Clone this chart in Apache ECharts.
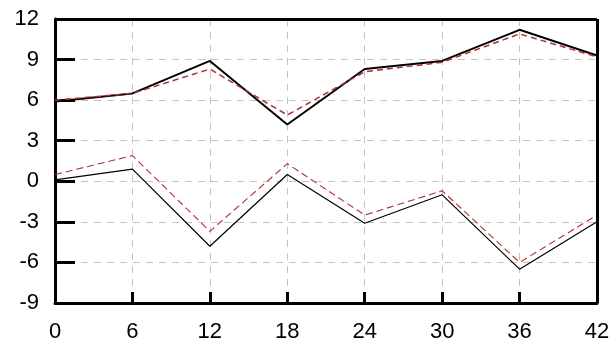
<!DOCTYPE html>
<html>
<head>
<meta charset="utf-8">
<script src="https://cdn.jsdelivr.net/npm/echarts@6/dist/echarts.min.js"></script>
<style>html,body{margin:0;padding:0;background:#fff}#c{width:612px;height:344px}</style>
</head>
<body>
<div id="c"></div>
<script>
var xValues = [0, 6, 12, 18, 24, 30, 36, 42];
var upperSolid = [5.9, 6.5, 8.9, 4.2, 8.3, 8.9, 11.2, 9.3];
var upperDashed = [6.0, 6.5, 8.3, 4.9, 8.1, 8.8, 10.9, 9.2];
var lowerSolid = [0.1, 0.9, -4.8, 0.5, -3.1, -1.0, -6.5, -3.0];
var lowerDashed = [0.5, 1.9, -3.7, 1.3, -2.5, -0.7, -6.0, -2.5];
var xMin = 0, xMax = 42, yMin = -9, yMax = 12;

function pairs(ys) { return xValues.map(function (x, i) { return [x, ys[i]]; }); }

var chart = echarts.init(document.getElementById('c'));
var fam = 'Liberation Sans, Arial, sans-serif';
chart.setOption({
  animation: false,
  grid: { left: 55, right: 15, top: 19, bottom: 41, outerBoundsMode: 'none' },
  xAxis: {
    type: 'value', min: xMin, max: xMax, interval: 6,
    axisLine: { show: true, onZero: false, lineStyle: { color: '#010101', width: 3 } },
    axisTick: { show: true, inside: true, length: 11, lineStyle: { color: '#010101', width: 3 } },
    axisLabel: { margin: 18, fontFamily: fam, fontSize: 22, color: '#010101' },
    splitLine: { show: true, lineStyle: { color: '#c4c4c4', type: [7, 6], width: 1 } }
  },
  yAxis: {
    type: 'value', min: yMin, max: yMax, interval: 3,
    axisLine: { show: true, onZero: false, lineStyle: { color: '#010101', width: 3 } },
    axisTick: { show: true, inside: true, length: 20, lineStyle: { color: '#010101', width: 3 } },
    axisLabel: { margin: 16, fontFamily: fam, fontSize: 22, color: '#010101' },
    splitLine: { show: true, lineStyle: { color: '#c4c4c4', type: [7, 6], width: 1 } }
  },
  series: [
    { type: 'line', data: pairs(upperSolid), symbol: 'none', lineStyle: { color: '#000', width: 2 }, z: 3,
      markLine: { silent: true, symbol: 'none', label: { show: false },
        lineStyle: { color: '#010101', width: 3, type: 'solid' },
        data: [{ yAxis: yMax }, { xAxis: xMax }] } },
    { type: 'line', data: pairs(upperDashed), symbol: 'none', lineStyle: { color: '#b03030', width: 1.5, type: [6, 4] }, z: 4 },
    { type: 'line', data: pairs(lowerSolid), symbol: 'none', lineStyle: { color: '#000', width: 1.2 }, z: 3 },
    { type: 'line', data: pairs(lowerDashed), symbol: 'none', lineStyle: { color: '#b03030', width: 1.1, type: [7, 4] }, z: 4 }
  ]
});
</script>
</body>
</html>
